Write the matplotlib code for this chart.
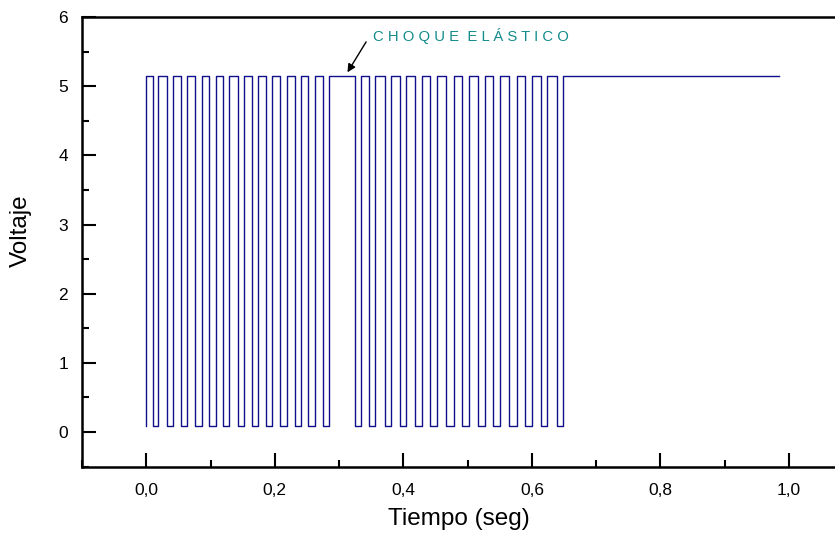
import matplotlib.pyplot as plt
import numpy as np
from matplotlib.ticker import MultipleLocator, FuncFormatter

# edges of the pulses (seconds)
fall_1 = [0.010, 0.032, 0.054, 0.076, 0.098, 0.120, 0.143, 0.164, 0.187, 0.208, 0.231, 0.252, 0.275]
rise_1 = [0.019, 0.041, 0.063, 0.086, 0.108, 0.129, 0.152, 0.174, 0.196, 0.219, 0.241, 0.263, 0.285]
fall_2 = [0.324, 0.346, 0.371, 0.394, 0.418, 0.442, 0.466, 0.491, 0.516, 0.540, 0.565, 0.589, 0.614, 0.639]
rise_2 = [0.334, 0.356, 0.381, 0.404, 0.429, 0.453, 0.478, 0.502, 0.527, 0.551, 0.577, 0.600, 0.624, 0.649]
v_high = 5.15
v_low = 0.09
t_end = 0.985

# build the step trace from the edges
t = [0.0, 0.0]
v = [v_low, v_high]
for f, r in zip(fall_1 + fall_2, rise_1 + rise_2):
    t += [f, f, r, r]
    v += [v_high, v_low, v_low, v_high]
t.append(t_end)
v.append(v_high)

plt.rcParams['font.family'] = ['Liberation Sans', 'DejaVu Sans']

fig = plt.figure(figsize=(8.35, 5.33), dpi=100)
ax = fig.add_axes([0.0982, 0.1246, 0.9018, 0.8435])

ax.plot(t, v, color='#10108a', linewidth=1.0)

ax.set_xlim(-0.1, 1.0715)
ax.set_ylim(-0.5, 6)
ax.xaxis.set_major_locator(MultipleLocator(0.2))
ax.xaxis.set_minor_locator(MultipleLocator(0.1))
ax.yaxis.set_major_locator(MultipleLocator(1))
ax.yaxis.set_minor_locator(MultipleLocator(0.5))
ax.xaxis.set_major_formatter(FuncFormatter(lambda x, p: ('%.1f' % x).replace('.', ',') if x >= -0.01 else ''))

ax.tick_params(which='both', direction='in', width=1.5, labelsize=12.5)
ax.tick_params(which='major', length=10)
ax.tick_params(which='minor', length=5)
ax.tick_params(axis='x', pad=12)
ax.tick_params(axis='y', pad=10)

for s in ['left', 'bottom', 'top']:
    ax.spines[s].set_linewidth(1.8)
ax.spines['right'].set_visible(False)

ax.set_ylabel('Voltaje', fontsize=17.5)
ax.yaxis.set_label_coords(-0.067, 0.525)
ax.set_xlabel('Tiempo (seg)', fontsize=17.5, labelpad=7)

ax.text(0.352, 5.73, 'C H O Q U E  E L Á S T I C O', color='#148c8c', fontsize=10.7, va='center')
ax.annotate('', xy=(0.313, 5.20), xytext=(0.342, 5.64),
            arrowprops=dict(arrowstyle='-|>', color='black', lw=1, shrinkA=0, shrinkB=0,
                            mutation_scale=12))

plt.savefig('out.png', dpi=100)
